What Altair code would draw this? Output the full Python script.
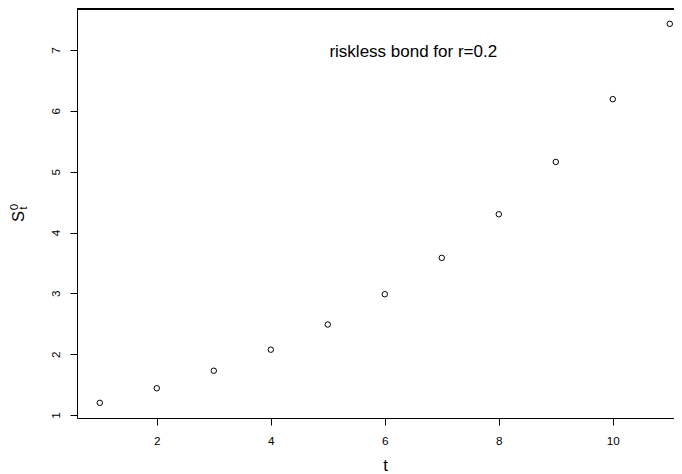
import altair as alt
import pandas as pd

t_values = [1, 2, 3, 4, 5, 6, 7, 8, 9, 10, 11]
bond_values = [1.2, 1.44, 1.728, 2.074, 2.488, 2.986, 3.583, 4.300, 5.160, 6.192, 7.430]
x_ticks = [2, 4, 6, 8, 10]
y_ticks = [1, 2, 3, 4, 5, 6, 7]
annotation = "riskless bond for r=0.2"

FONT = "Liberation Sans, Arial, Helvetica, sans-serif"
W, H = 597, 409

df = pd.DataFrame({"t": t_values, "S": bond_values})

x_scale = alt.Scale(domain=[0.6, 11.074], nice=False, zero=False)
y_scale = alt.Scale(domain=[0.951, 7.674], nice=False, zero=False)

points = alt.Chart(df).mark_point(
    shape="circle", filled=False, color="black", size=30, strokeWidth=1, opacity=1
).encode(
    x=alt.X("t:Q", scale=x_scale, axis=alt.Axis(
        values=x_ticks, format="d", title="t", tickSize=7, labelPadding=10, labelFontSize=11.7,
        labelFont=FONT, titleFont=FONT, titleFontSize=16.7, titleFontWeight="normal",
        titleBaseline="alphabetic", titleY=52, titleX=308, titleAlign="center",
        domainColor="black", tickColor="black", labelColor="black", titleColor="black",
        grid=False, domainWidth=1, tickWidth=1)),
    y=alt.Y("S:Q", scale=y_scale, axis=alt.Axis(
        values=y_ticks, format="d", title="S", tickSize=7, labelPadding=15, labelFontSize=11.7,
        labelAngle=270, labelAlign="center", labelBaseline="middle",
        labelFont=FONT, titleFont=FONT, titleFontSize=16.7, titleFontWeight="normal",
        titleAngle=270, titleBaseline="alphabetic", titleX=-54, titleY=207, titleAlign="center",
        domainColor="black", tickColor="black", labelColor="black", titleColor="black",
        grid=False, domainWidth=1, tickWidth=1)),
)

top_line = alt.Chart(df).mark_rule(color="black", strokeWidth=1).encode(
    x=alt.value(0), x2=alt.value(W), y=alt.value(0)
)

note = alt.Chart(pd.DataFrame({"x": [6.5], "y": [7.0], "label": [annotation]})).mark_text(
    font=FONT, fontSize=17, color="black", align="center", baseline="middle", dy=2
).encode(x=alt.X("x:Q", scale=x_scale), y=alt.Y("y:Q", scale=y_scale), text="label:N")

sub_t = alt.Chart(pd.DataFrame({"s": ["t"]})).mark_text(
    font=FONT, fontSize=11.7, color="black", angle=270, align="center", baseline="alphabetic"
).encode(x=alt.value(-50), y=alt.value(199), text="s:N")

sup_0 = alt.Chart(pd.DataFrame({"s": ["0"]})).mark_text(
    font=FONT, fontSize=11.7, color="black", angle=270, align="center", baseline="alphabetic"
).encode(x=alt.value(-59), y=alt.value(198), text="s:N")

chart = alt.layer(points, top_line, note, sub_t, sup_0).properties(
    width=W, height=H,
    autosize=alt.AutoSizeParams(type="none"),
    padding={"left": 69, "top": 1, "right": 0, "bottom": 56},
    background="white",
).configure_view(stroke=None)

chart.save("out.html", embed_options={"renderer": "svg", "actions": False})
